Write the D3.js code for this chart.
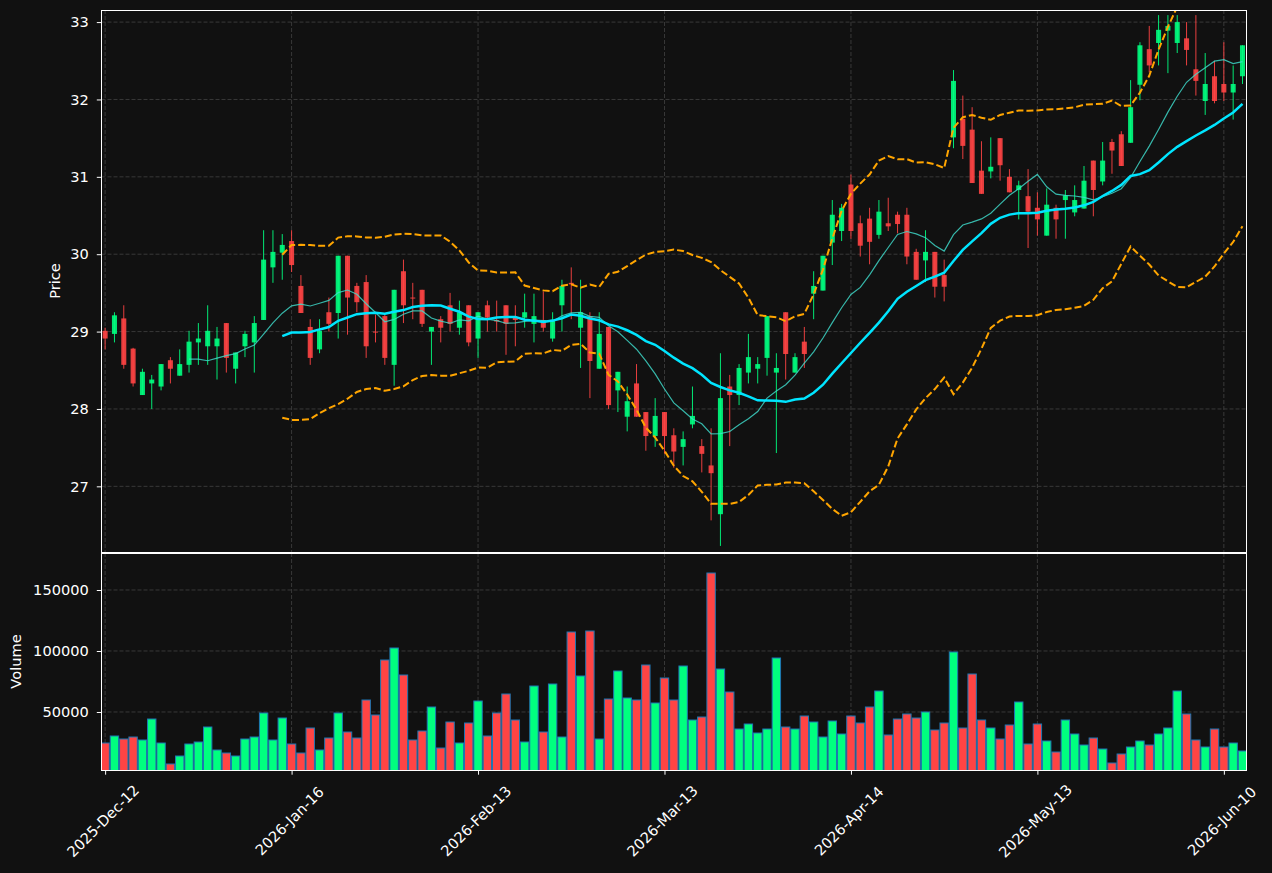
<!DOCTYPE html>
<html>
<head>
<meta charset="utf-8">
<script src="https://cdn.jsdelivr.net/npm/d3@7"></script>
<style>
    html, body { margin: 0; padding: 0; background: #111111; }
    svg { display: block; font-family: 'DejaVu Sans', sans-serif; }
</style>
</head>
<body>
<div id="chart"></div>
<script>
// daily candles (index 0 = 2025-Dec-12)
const opens = [29.01, 28.97, 29.17, 28.78, 28.18, 28.33, 28.29, 28.63, 28.43, 28.57,
    28.86, 28.81, 28.81, 29.11, 28.52, 28.81, 28.86, 29.15, 29.83, 30.02,
    30.17, 29.59, 29.06, 28.77, 29.25, 29.24, 29.98, 29.59, 29.64, 29.00,
    29.20, 28.57, 29.78, 29.44, 29.54, 29.00, 29.16, 29.34, 29.05, 29.34,
    28.91, 29.34, 29.15, 29.34, 29.18, 29.18, 29.10, 29.15, 28.91, 29.34,
    29.63, 29.05, 29.20, 28.52, 29.06, 28.24, 27.90, 28.33, 27.96, 27.65,
    27.96, 27.66, 27.51, 27.80, 27.52, 27.27, 26.64, 28.29, 28.18, 28.47,
    28.52, 28.66, 28.47, 29.25, 28.47, 28.87, 29.49, 29.53, 30.15, 30.30,
    30.90, 30.40, 30.46, 30.25, 30.40, 30.51, 30.51, 30.03, 29.92, 30.03,
    29.73, 31.51, 31.75, 31.61, 31.08, 31.07, 31.50, 31.00, 30.83, 30.75,
    30.60, 30.24, 30.60, 30.70, 30.54, 30.59, 31.21, 30.94, 31.45, 31.55,
    31.44, 32.19, 32.65, 32.73, 32.89, 32.73, 32.79, 32.39, 31.98, 32.30,
    32.20, 32.09, 32.30];
const highs = [29.05, 29.25, 29.34, 28.79, 28.52, 28.44, 28.58, 28.67, 28.77, 29.01,
    29.11, 29.34, 29.06, 29.11, 28.73, 29.01, 29.20, 30.31, 30.31, 30.26,
    30.31, 29.73, 29.16, 29.16, 29.44, 29.98, 29.98, 29.63, 29.73, 29.22,
    29.22, 29.54, 29.93, 29.63, 29.54, 29.06, 29.20, 29.50, 29.40, 29.34,
    29.25, 29.40, 29.40, 29.34, 29.34, 29.49, 29.49, 29.52, 29.25, 29.67,
    29.83, 29.67, 29.25, 29.25, 29.06, 28.48, 28.29, 28.58, 27.96, 28.14,
    27.96, 27.75, 27.71, 28.29, 27.61, 27.75, 28.72, 28.44, 28.58, 28.97,
    28.67, 29.20, 28.72, 29.25, 28.72, 29.06, 29.78, 29.98, 30.70, 30.65,
    31.03, 30.50, 30.60, 30.70, 30.73, 30.55, 30.60, 30.07, 30.31, 30.03,
    29.93, 32.38, 32.05, 31.90, 31.46, 31.51, 31.50, 31.10, 30.95, 31.10,
    30.80, 30.85, 30.64, 30.83, 30.89, 31.14, 31.21, 31.45, 31.49, 31.59,
    32.25, 32.74, 32.95, 33.09, 33.09, 33.09, 33.00, 33.09, 32.60, 32.50,
    32.74, 32.44, 32.70];
const lows = [28.77, 28.86, 28.52, 28.29, 28.18, 28.00, 28.24, 28.33, 28.43, 28.47,
    28.57, 28.57, 28.38, 28.47, 28.33, 28.67, 28.47, 29.15, 29.63, 29.67,
    29.77, 29.24, 28.57, 28.72, 29.00, 28.91, 28.96, 29.25, 28.66, 28.86,
    28.57, 28.30, 29.11, 29.16, 29.06, 28.57, 28.86, 29.00, 28.96, 28.81,
    28.66, 29.00, 29.00, 28.70, 28.81, 29.05, 28.86, 29.00, 28.87, 29.00,
    29.16, 28.53, 28.14, 28.52, 28.00, 27.96, 27.71, 27.90, 27.46, 27.51,
    27.42, 27.24, 27.27, 27.75, 27.18, 26.56, 26.23, 27.52, 28.05, 28.33,
    28.33, 28.43, 27.43, 28.38, 28.47, 28.53, 29.16, 29.53, 29.86, 30.17,
    30.20, 29.97, 29.87, 30.20, 30.30, 30.27, 29.87, 29.67, 29.64, 29.44,
    29.39, 31.37, 31.23, 30.92, 30.78, 30.98, 30.95, 30.80, 30.45, 30.08,
    30.24, 30.24, 30.20, 30.20, 30.49, 30.59, 30.49, 30.89, 31.04, 31.14,
    31.44, 31.99, 32.35, 32.44, 32.34, 32.60, 32.44, 32.05, 31.80, 31.95,
    31.98, 31.74, 32.20];
const closes = [28.91, 29.21, 28.57, 28.33, 28.48, 28.38, 28.58, 28.52, 28.58, 28.87,
    28.91, 29.01, 28.91, 28.66, 28.73, 28.97, 29.11, 29.93, 30.03, 30.12,
    29.86, 29.24, 28.66, 29.01, 29.10, 29.98, 29.44, 29.38, 28.81, 28.99,
    28.66, 29.54, 29.34, 29.43, 29.10, 29.06, 29.05, 29.10, 29.25, 28.86,
    29.25, 29.18, 29.13, 29.10, 29.15, 29.25, 29.20, 29.05, 29.15, 29.59,
    29.61, 29.25, 28.62, 28.97, 28.05, 28.48, 28.10, 27.90, 27.65, 27.91,
    27.65, 27.45, 27.61, 27.91, 27.42, 27.17, 28.14, 28.18, 28.53, 28.67,
    28.58, 29.20, 28.53, 28.71, 28.67, 28.71, 29.59, 29.98, 30.51, 30.60,
    30.30, 30.11, 30.16, 30.55, 30.36, 30.39, 29.97, 29.67, 30.03, 29.58,
    29.58, 32.24, 31.40, 30.92, 30.78, 31.13, 31.15, 30.80, 30.89, 30.55,
    30.45, 30.64, 30.45, 30.76, 30.70, 30.95, 30.83, 31.21, 31.34, 31.14,
    31.90, 32.70, 32.44, 32.90, 32.95, 33.00, 32.64, 32.24, 32.20, 31.98,
    32.09, 32.20, 32.70];
const volumes = [24590, 30330, 27870, 29510, 27050, 44260, 24590, 7380, 13930, 23770,
    25410, 37700, 18850, 16390, 13930, 27870, 29510, 49180, 27050, 45080,
    23770, 16390, 36890, 18850, 28690, 49180, 33610, 28690, 59840, 47540,
    92620, 102460, 80330, 27050, 34430, 54100, 20490, 41800, 24590, 40980,
    59020, 30330, 49180, 64750, 43440, 25410, 71310, 33610, 72950, 29510,
    115570, 79510, 116390, 27870, 60660, 83610, 61480, 59840, 88520, 57380,
    77870, 59840, 87700, 43440, 45900, 163930, 85250, 66390, 36070, 40160,
    32790, 36070, 94260, 37700, 36070, 46720, 41800, 29510, 42620, 31970,
    46720, 40980, 54100, 67210, 31150, 44260, 48360, 45080, 50000, 35250,
    40980, 99180, 36890, 81150, 43440, 36890, 27870, 39340, 58200, 23770,
    40160, 26230, 17210, 43440, 31970, 22950, 28690, 19670, 8200, 15570,
    21310, 26230, 22950, 31970, 36890, 67210, 48360, 27050, 21310, 36070,
    21310, 24590, 18030];

const tickIdx = [0, 20, 40, 60, 80, 100, 120];
const tickLabels = ["2025-Dec-12", "2026-Jan-16", "2026-Feb-13", "2026-Mar-13",
    "2026-Apr-14", "2026-May-13", "2026-Jun-10"];
const priceTicks = [27, 28, 29, 30, 31, 32, 33];
const volumeTicks = [50000, 100000, 150000];

const W = 1272, H = 873;
const left = 101.5, right = 1246.5;
const pTop = 10, pBot = 552, vTop = 553, vBot = 770;

const UP = "#00ff7f", DOWN = "#ff4444";
const GRID = "#3d3d3d";
const FONT = "14.6px";

// rolling mean / sample std, null until the window is full
function rolling(arr, n, fn) {
    return arr.map((_, i) => i < n - 1 ? null : fn(arr.slice(i - n + 1, i + 1)));
}
const ma10 = rolling(closes, 10, d3.mean);
const ma20 = rolling(closes, 20, d3.mean);
const sd20 = rolling(closes, 20, d3.deviation);
const upper = ma20.map((m, i) => m == null ? null : m + 2 * sd20[i]);
const lower = ma20.map((m, i) => m == null ? null : m - 2 * sd20[i]);

const idx = d3.range(closes.length);

const x = d3.scaleLinear().domain([-0.39, 122.43]).range([left, right]);
const step = x(1) - x(0);
const yP = d3.scaleLinear()
    .domain([d3.min(lows) * 0.997, d3.max(highs) * 1.002])
    .range([pBot, pTop]);
const yV = d3.scaleLinear()
    .domain([d3.min(volumes) / 3, d3.max(volumes) * 1.1])
    .range([vBot, vTop]);

const svg = d3.select("#chart").append("svg")
    .attr("width", W)
    .attr("height", H);

svg.append("rect").attr("width", W).attr("height", H).attr("fill", "#111111");

const defs = svg.append("defs");
defs.append("clipPath").attr("id", "clipP")
    .append("rect").attr("x", left).attr("y", pTop).attr("width", right - left).attr("height", pBot - pTop);
defs.append("clipPath").attr("id", "clipV")
    .append("rect").attr("x", left).attr("y", vTop).attr("width", right - left).attr("height", vBot - vTop);

// grids
function grid(g, yScale, yTicks, y0, y1) {
    g.selectAll(".gx").data(tickIdx).enter().append("line")
        .attr("x1", d => x(d)).attr("x2", d => x(d))
        .attr("y1", y0).attr("y2", y1);
    g.selectAll(".gy").data(yTicks).enter().append("line")
        .attr("x1", left).attr("x2", right)
        .attr("y1", d => yScale(d)).attr("y2", d => yScale(d));
    g.selectAll("line")
        .attr("stroke", GRID)
        .attr("stroke-width", 0.9)
        .attr("stroke-dasharray", "4,2");
}
grid(svg.append("g"), yP, priceTicks, pTop, pBot);
grid(svg.append("g"), yV, volumeTicks, vTop, vBot);

// candles
const candles = svg.append("g").attr("clip-path", "url(#clipP)");
const color = i => closes[i] >= opens[i] ? UP : DOWN;

candles.selectAll(".wick").data(idx).enter().append("line")
    .attr("x1", i => x(i)).attr("x2", i => x(i))
    .attr("y1", i => yP(highs[i])).attr("y2", i => yP(lows[i]))
    .attr("stroke", color)
    .attr("stroke-opacity", 0.9)
    .attr("stroke-width", 1);

candles.selectAll(".body").data(idx).enter().append("rect")
    .attr("x", i => x(i) - step * 0.27)
    .attr("width", step * 0.54)
    .attr("y", i => yP(Math.max(opens[i], closes[i])))
    .attr("height", i => Math.max(1, Math.abs(yP(opens[i]) - yP(closes[i]))))
    .attr("fill", color)
    .attr("fill-opacity", 0.9);

// indicator lines
const lines = svg.append("g").attr("clip-path", "url(#clipP)");
function addLine(vals, stroke, width, dash, opacity) {
    const line = d3.line()
        .defined(i => vals[i] != null)
        .x(i => x(i))
        .y(i => yP(vals[i]));
    lines.append("path")
        .datum(idx)
        .attr("d", line)
        .attr("fill", "none")
        .attr("stroke", stroke)
        .attr("stroke-width", width)
        .attr("stroke-dasharray", dash)
        .attr("stroke-opacity", opacity);
}
addLine(upper, "#ffa500", 2, "7,3", 1);
addLine(lower, "#ffa500", 2, "7,3", 1);
addLine(ma10, "#40e0d0", 1.2, null, 0.8);
addLine(ma20, "#00e5ff", 2.5, null, 1);

// volume bars
svg.append("g").attr("clip-path", "url(#clipV)")
    .selectAll("rect").data(idx).enter().append("rect")
    .attr("x", i => x(i) - step * 0.45)
    .attr("width", step * 0.9)
    .attr("y", i => yV(volumes[i]))
    .attr("height", i => vBot + 5 - yV(volumes[i]))
    .attr("fill", color)
    .attr("stroke", "#1f77b4")
    .attr("stroke-width", 1);

// axes
function styleAxis(g) {
    g.select(".domain").remove();
    g.selectAll(".tick line").attr("stroke", "#ffffff");
    g.selectAll(".tick text")
        .attr("fill", "#ffffff")
        .style("font-size", FONT)
        .style("font-family", "'DejaVu Sans', sans-serif");
}

svg.append("g")
    .attr("transform", `translate(${left},0)`)
    .call(d3.axisLeft(yP).tickValues(priceTicks).tickFormat(d3.format("d")).tickSize(4.7).tickPadding(8))
    .call(styleAxis);

svg.append("g")
    .attr("transform", `translate(${left},0)`)
    .call(d3.axisLeft(yV).tickValues(volumeTicks).tickFormat(d3.format("d")).tickSize(4.7).tickPadding(8))
    .call(styleAxis);

svg.append("g")
    .attr("transform", `translate(0,${vBot})`)
    .call(d3.axisBottom(x).tickValues(tickIdx).tickFormat((d, i) => tickLabels[i]).tickSize(4.7))
    .call(styleAxis)
    .selectAll(".tick text")
    .attr("y", 0)
    .attr("dy", "0.35em")
    .attr("text-anchor", "middle")
    .attr("transform", "translate(-2.5,51) rotate(-45)");

// panel frames
svg.append("rect")
    .attr("x", left).attr("y", pTop + 0.5)
    .attr("width", right - left).attr("height", pBot - pTop)
    .attr("fill", "none").attr("stroke", "#ffffff").attr("stroke-width", 1);
svg.append("rect")
    .attr("x", left).attr("y", vTop + 0.5)
    .attr("width", right - left).attr("height", vBot - vTop)
    .attr("fill", "none").attr("stroke", "#ffffff").attr("stroke-width", 1);

// axis titles
svg.append("text")
    .attr("transform", `translate(55,${(pTop + pBot) / 2}) rotate(-90)`)
    .attr("text-anchor", "middle")
    .attr("dy", "0.35em")
    .attr("fill", "#ffffff")
    .style("font-size", FONT)
    .text("Price");
svg.append("text")
    .attr("transform", `translate(16,${(vTop + vBot) / 2}) rotate(-90)`)
    .attr("text-anchor", "middle")
    .attr("dy", "0.35em")
    .attr("fill", "#ffffff")
    .style("font-size", FONT)
    .text("Volume");
</script>
</body>
</html>
